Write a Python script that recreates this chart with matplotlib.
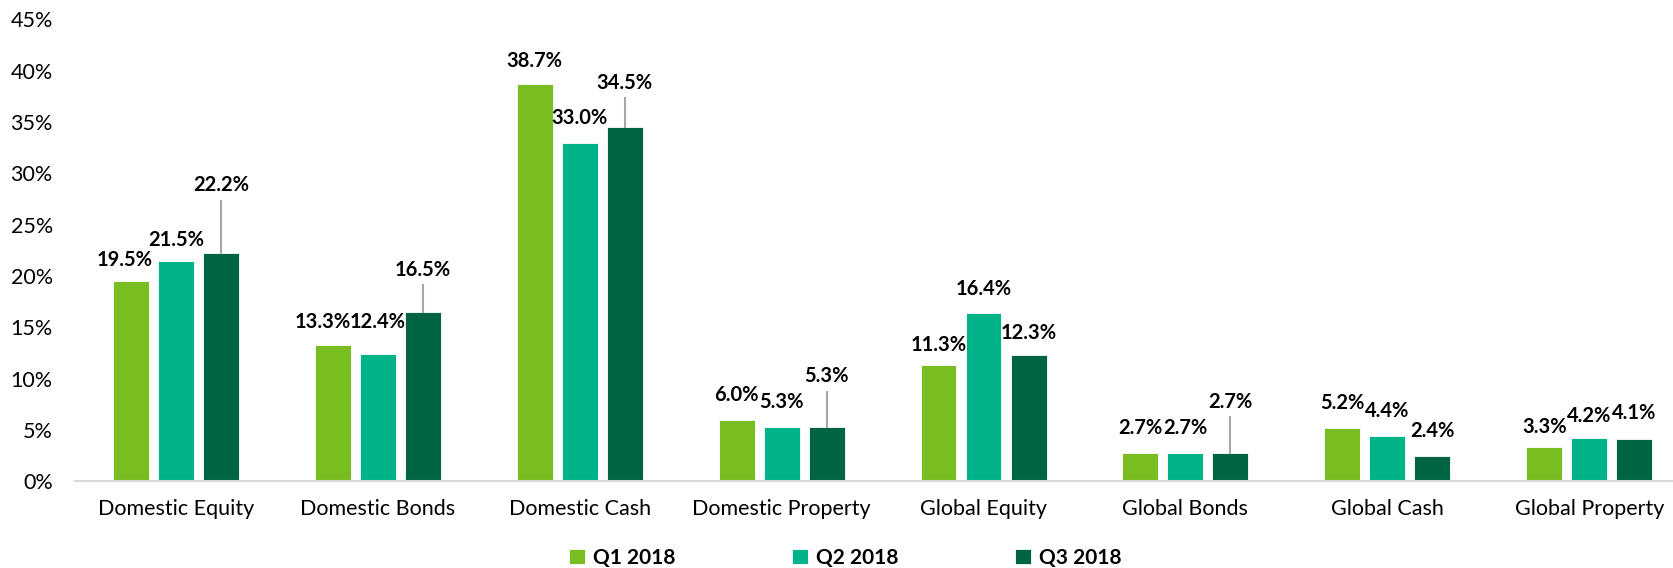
import numpy as np
import matplotlib.pyplot as plt

plt.rcParams['font.family'] = ['Lato', 'DejaVu Sans']

# data
categories = ['Domestic Equity', 'Domestic Bonds', 'Domestic Cash', 'Domestic Property',
              'Global Equity', 'Global Bonds', 'Global Cash', 'Global Property']
series = ['Q1 2018', 'Q2 2018', 'Q3 2018']
q1 = [19.5, 13.3, 38.7, 6.0, 11.3, 2.7, 5.2, 3.3]
q2 = [21.5, 12.4, 33.0, 5.3, 16.4, 2.7, 4.4, 4.2]
q3 = [22.2, 16.5, 34.5, 5.3, 12.3, 2.7, 2.4, 4.1]
y_ticks = [0, 5, 10, 15, 20, 25, 30, 35, 40, 45]

# where the data labels sit (percent units), as placed in the original
lab_q1 = [21.6, 15.5, 41.0, 8.4, 13.3, 5.2, 7.6, 5.3]
lab_q2 = [23.5, 15.5, 35.4, 7.7, 18.7, 5.2, 6.8, 6.3]
lab_q3 = [28.85, 20.6, 38.8, 10.2, 14.4, 7.7, 4.9, 6.6]
# small sideways nudges of the Q1 labels (category units)
dx_q1 = [-0.03, -0.05, 0, 0, 0, 0, 0, 0]
# labels lifted off the bar get a leader line
lead_q3 = [True, True, True, True, False, True, False, False]

colors = ['#78BE20', '#00B388', '#006341']

fig = plt.figure(figsize=(16.74, 5.68), dpi=100)
ax = fig.add_axes([0.0448, 0.153, 1 - 0.0448, 0.9657 - 0.153])

x = np.arange(len(categories))
w = 0.178
step = 0.223
vals = [q1, q2, q3]
labs = [lab_q1, lab_q2, lab_q3]
bars = []
for i in range(3):
    b = ax.bar(x + (i - 1) * step, vals[i], width=w, color=colors[i],
               edgecolor='white', linewidth=0.6, label=series[i])
    bars.append(b)
    for j in range(len(categories)):
        xx = x[j] + (i - 1) * step
        tx = xx + (dx_q1[j] if i == 0 else 0)
        ax.text(tx, labs[i][j], '%.1f%%' % vals[i][j], ha='center', va='center',
                fontsize=14.5, fontweight='bold', color='black')
        if i == 2 and lead_q3[j]:
            ax.plot([xx, xx], [vals[i][j], labs[i][j] - 1.5], color='#A6A6A6', lw=1.5)

ax.set_xlim(-0.5, 7.42)
ax.set_ylim(0, 45)
ax.set_yticks(y_ticks)
ax.set_yticklabels(['%d%%' % t for t in y_ticks])
ax.set_xticks(x)
ax.set_xticklabels(categories)
ax.tick_params(axis='both', length=0, labelsize=15.5)
ax.tick_params(axis='y', pad=16)
ax.tick_params(axis='x', pad=13)

for s in ['left', 'right', 'top']:
    ax.spines[s].set_visible(False)
ax.spines['bottom'].set_color('#D9D9D9')
ax.spines['bottom'].set_linewidth(1.5)

leg = fig.legend(handles=bars, labels=series, loc='center', ncol=3,
                 bbox_to_anchor=(0.505, 0.018), frameon=False,
                 prop={'weight': 'bold', 'size': 15},
                 handlelength=0.75, handleheight=0.75, handletextpad=0.4,
                 columnspacing=5.6)

fig.savefig('out.png', dpi=100)
